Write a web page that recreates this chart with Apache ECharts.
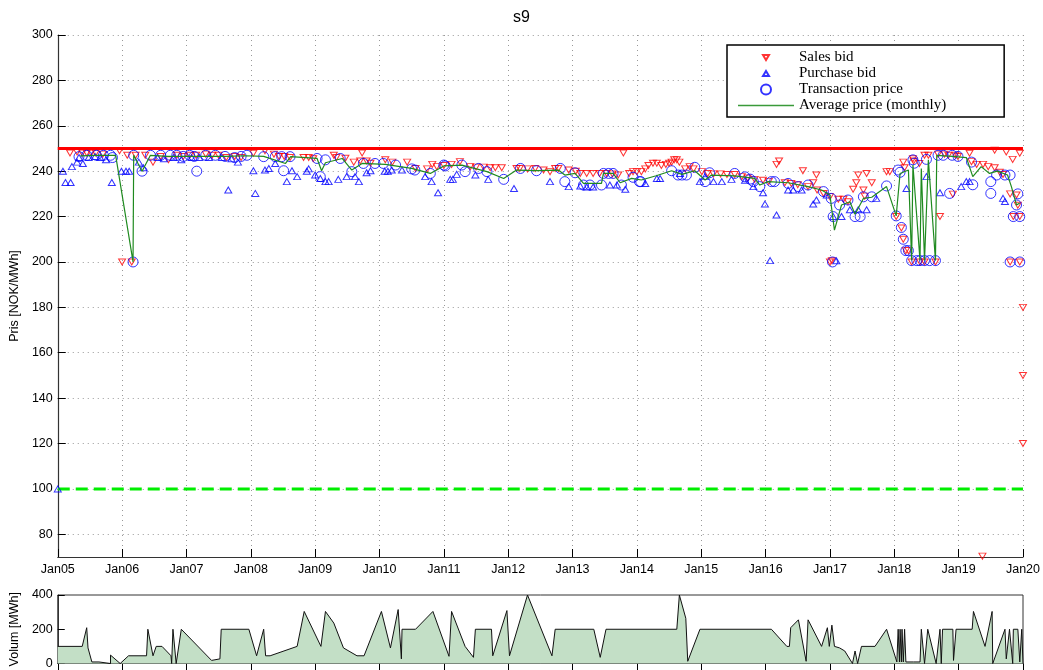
<!DOCTYPE html>
<html lang="en">
<head>
    <meta charset="UTF-8">
    <title>s9</title>
    <style>
        html, body { margin: 0; padding: 0; background: #fff; }
    </style>
</head>
<body>
    <div id="main" style="width: 1043px;height:670px;"></div>
    <script src="https://cdn.jsdelivr.net/npm/echarts@6/dist/echarts.min.js"></script>
    <script type="text/javascript">
        var myChart = echarts.init(document.getElementById('main'));

        // x values are decimal years (2005.5 = mid 2005)
        var yearTicks = [2005, 2006, 2007, 2008, 2009, 2010, 2011, 2012, 2013, 2014, 2015, 2016, 2017, 2018, 2019, 2020];
        var priceTicks = [80, 100, 120, 140, 160, 180, 200, 220, 240, 260, 280, 300];

        var priceCap = 250;   // upper price limit (red)
        var priceFloor = 100; // lower price limit (green dashed)

        var salesBid = [
            [2005.19,248],[2005.30,248.5],[2005.38,248],[2005.45,248],[2005.52,248],[2005.59,248],[2005.70,247.5],[2005.96,249],
            [2006.00,200],[2006.08,247],[2006.15,200],[2006.21,247],[2006.36,247],[2006.48,244],[2006.60,246.5],[2006.72,245],
            [2006.85,247],[2006.95,246.5],[2007.05,247],[2007.15,247],[2007.30,247.5],[2007.40,247],[2007.50,247],[2007.62,246],
            [2007.75,246.5],[2007.85,246],
            [2008.04,247.9],[2008.22,249],[2008.36,247.5],[2008.44,246.5],[2008.52,246.5],[2008.61,246],[2008.82,246],[2008.90,246],
            [2008.97,245.5],[2009.29,247],[2009.33,246],[2009.47,245.7],[2009.60,244],[2009.73,248],[2009.70,244.5],[2009.80,244.5],
            [2009.86,243.5],[2010.09,245],[2010.20,244],[2010.43,244],[2010.56,241.2],[2010.74,241],[2010.82,243],[2010.89,242],
            [2011.00,242.5],[2011.12,243],[2011.25,244.2],[2011.41,242],[2011.50,241.8],[2011.62,241.8],[2011.72,241.5],[2011.80,241.5],
            [2011.90,241.5],[2012.13,241.2],[2012.18,241.2],[2012.30,241],[2012.42,241.2],[2012.55,240.5],[2012.65,239.8],[2012.73,241.2],
            [2012.78,241.2],[2012.94,240.5],[2013.05,240],[2013.12,239],[2013.22,239],[2013.32,239],[2013.42,239],[2013.53,239],
            [2013.62,238.8],[2013.71,238.3],[2013.79,248],[2013.88,239],[2013.94,239.8],[2014.00,239.8],
            [2014.07,239.8],[2014.13,241],[2014.18,242.5],[2014.25,243.5],[2014.31,243.5],[2014.38,242.5],[2014.45,243],[2014.50,243.5],
            [2014.54,244],[2014.58,245],[2014.62,245],[2014.66,244],[2014.75,241],[2014.82,242],[2014.88,241],[2015.01,239.8],
            [2015.10,239],[2015.19,238.8],[2015.30,238.8],[2015.40,238.5],[2015.52,238.5],[2015.63,237.6],[2015.72,237],[2015.83,236.4],
            [2015.96,236],[2016.05,235.5],[2016.17,243],[2016.21,244.5],[2016.30,234.9],[2016.40,234.6],[2016.50,234],[2016.58,240.2],
            [2016.66,233.2],[2016.74,234.9],[2016.79,238.3],[2016.80,231.7],[2016.90,230.2],[2017.00,228.8],[2017.00,200],
            [2017.03,200.5],[2017.13,227.6],[2017.21,227.6],[2017.28,226.5],[2017.36,232],[2017.41,234.9],[2017.44,238.3],[2017.52,231.7],
            [2017.54,229],[2017.57,239],[2017.65,234.9],[2017.88,239.8],[2017.93,239.8],[2018.03,220],[2018.11,215],[2018.14,210],
            [2018.14,244],[2018.16,241.5],[2018.18,205],[2018.22,205],[2018.27,200],[2018.29,245.5],[2018.30,244.5],[2018.39,243.4],
            [2018.40,200],[2018.47,247],[2018.47,200],[2018.53,247],[2018.64,200],[2018.71,220],[2018.68,247.5],[2018.78,247.5],
            [2018.84,247],[2018.91,229.9],[2018.95,247],[2018.99,246.5],[2019.17,247.9],[2019.20,244.2],[2019.28,243],[2019.38,243],
            [2019.37,70.4],[2019.46,242],[2019.56,241.5],[2019.56,249.2],[2019.64,239.5],[2019.69,238.5],[2019.74,248.5],[2019.80,230],
            [2019.80,200],[2019.84,245.2],[2019.85,220],[2019.90,229.5],[2019.92,225],[2019.95,247.9],[2019.95,220],[2019.95,200],
            [2020.00,180],[2020.00,150],[2020.00,120]
        ];

        var purchaseBid = [
            [2005.00,100],[2005.08,240],[2005.12,235],[2005.20,235],[2005.22,242],[2005.30,244],[2005.33,246],[2005.39,243.4],
            [2005.48,246],[2005.58,246.5],[2005.66,246],[2005.75,245],[2005.84,235],[2005.99,240],[2006.06,240],[2006.11,240],
            [2006.26,244],[2006.33,241.5],[2006.55,246],[2006.65,245.5],[2006.80,246],[2006.92,245],[2007.08,246],[2007.20,246],
            [2007.35,246],[2007.55,246],[2007.65,231.7],[2007.70,245.5],[2007.80,244],
            [2008.04,240.2],[2008.07,230.2],[2008.22,240.5],[2008.28,241.2],[2008.38,243.4],[2008.56,235.4],[2008.64,240.2],[2008.72,237.6],
            [2008.87,240],[2008.90,241],[2009.00,238.3],[2009.08,236.8],[2009.16,235.4],[2009.21,235.4],[2009.36,236.4],[2009.49,237.6],
            [2009.62,237.6],[2009.68,235.4],[2009.80,239.3],[2009.86,240.2],[2010.08,240],[2010.13,240],[2010.19,240.5],[2010.35,240.5],
            [2010.71,237.6],[2010.81,235.4],[2010.91,230.5],
            [2011.10,236.4],[2011.14,236.4],[2011.20,238.6],[2011.49,238.3],[2011.69,236.4],[2012.09,232.4],[2012.65,235.4],[2012.94,233.2],
            [2013.12,233.5],[2013.22,233],[2013.32,233],[2013.58,233.9],[2013.69,233.9],[2013.82,232],
            [2014.13,234.6],[2014.31,236.8],[2014.36,236.8],[2014.67,239],[2014.98,235.4],[2015.06,237.6],[2015.19,235.4],[2015.32,235.4],
            [2015.47,236.4],[2015.68,236],[2015.81,233.2],[2015.96,230.5],[2015.99,225.5],[2016.07,200.6],[2016.17,220.7],[2016.35,231.7],
            [2016.43,231.7],[2016.56,231.7],[2016.74,225.5],[2016.79,227.3],[2016.95,229.5],[2017.05,220],
            [2017.10,200.5],[2017.18,220],[2017.31,223],[2017.44,223],[2017.57,223],[2017.72,228],[2018.19,232.4],[2018.50,237.6],
            [2018.71,230.5],[2019.04,233.2],[2019.12,235.4],[2019.17,235.4],[2019.69,228],[2019.72,226.6]
        ];

        var transactionPrice = [
            [2005.33,246.4],[2005.45,247],[2005.60,247],[2005.71,247],[2005.82,247],[2005.85,246],[2006.17,200],[2006.18,247],
            [2006.31,240],[2006.44,247],[2006.60,247],[2006.75,247],[2006.85,247],[2006.95,246.5],[2007.05,247],[2007.12,246.5],
            [2007.16,240],[2007.30,247],[2007.45,247],[2007.60,246.5],[2007.75,246],[2007.85,246.5],
            [2007.94,247],[2008.20,246.4],[2008.38,246.4],[2008.48,246.4],[2008.51,240.2],[2008.61,246.4],[2009.03,245.6],[2009.08,237.6],
            [2009.16,245],[2009.39,245.6],[2009.57,239.8],[2009.75,243.4],[2009.93,243.4],[2010.06,243.4],[2010.25,242.7],[2010.50,241],
            [2010.55,240.5],[2010.79,239],[2011.00,242.7],
            [2011.02,242.3],[2011.28,242.7],[2011.33,239.8],[2011.54,241.2],[2011.67,239.8],[2011.93,236.4],[2012.19,241.2],[2012.44,240.2],
            [2012.81,241.2],[2012.88,235.4],[2013.04,239.3],[2013.17,233.9],[2013.27,233.9],[2013.45,233.9],[2013.48,239],[2013.56,239],
            [2013.63,239],[2013.76,233.9],[2013.94,237.3],[2014.04,235.4],
            [2014.06,235.4],[2014.54,240.2],[2014.64,238.3],[2014.70,238.3],[2014.77,238.3],[2014.90,241.7],[2015.06,235.4],[2015.13,239.3],
            [2015.52,239],[2015.68,237.5],[2015.76,236.5],[2015.81,235.4],[2015.91,233.2],[2016.09,235.4],[2016.14,235.4],[2016.35,234.6],
            [2016.51,233.2],[2016.66,233.9],[2016.90,231],[2017.04,200],[2017.05,220],
            [2017.02,228],[2017.15,225.1],[2017.28,227.3],[2017.39,220],[2017.47,220],[2017.52,228.7],[2017.65,228.7],[2017.88,233.5],
            [2018.03,220.3],[2018.06,240.5],[2018.09,239.5],[2018.11,215.2],[2018.14,210],[2018.18,205],[2018.22,205],[2018.27,200.6],
            [2018.29,245],[2018.31,243.5],[2018.35,200.6],[2018.40,200.6],[2018.47,200.6],[2018.50,245.2],[2018.55,200.6],[2018.64,200.6],
            [2018.68,247],[2018.76,247],[2018.86,230.2],[2018.90,247],[2018.99,246.5],[2019.20,244],[2019.22,234],[2019.50,235.4],
            [2019.50,230.2],[2019.59,238.3],[2019.72,238.3],[2019.80,238.3],[2019.80,200],[2019.85,220],[2019.90,225.1],[2019.92,230],
            [2019.95,220],[2019.95,200]
        ];

        var avgMonthly = [
            [2005.35,246.7],[2005.60,247],[2005.90,247],[2006.17,200],[2006.18,247],[2006.31,240],[2006.44,247],[2006.70,246.5],
            [2007.00,246.5],[2007.30,246.5],[2007.60,246.5],[2007.92,246.8],[2008.20,246.5],[2008.54,243.4],[2008.62,246.4],[2009.03,245.6],
            [2009.10,240.2],[2009.16,243.7],[2009.42,245.6],[2009.57,240.5],[2009.73,243.4],[2010.09,243],[2010.50,241.2],[2010.79,239],
            [2011.00,242.3],[2011.28,242.7],[2011.67,239.8],[2011.93,236.8],[2012.13,240.5],[2012.44,240.2],[2012.78,240.5],[2012.88,238.3],
            [2013.04,239],[2013.17,234.6],[2013.45,234.6],[2013.48,239],[2013.63,239],[2013.74,234.9],[2013.92,236.8],[2014.07,236.1],
            [2014.30,238],[2014.54,240.2],[2014.70,238.6],[2014.90,240.2],[2015.06,236.1],[2015.16,238.3],[2015.52,237.9],[2015.83,236.8],
            [2015.91,233.9],[2016.04,235.4],[2016.35,234.9],[2016.66,233.2],[2016.87,231.7],[2017.00,229.5],[2017.07,214],[2017.18,225.1],
            [2017.31,226.5],[2017.39,221],[2017.52,228],[2017.65,228.5],[2017.88,233.2],[2018.03,220.3],[2018.09,239],[2018.22,240.5],
            [2018.27,200.6],[2018.29,242.7],[2018.40,200.6],[2018.42,241.2],[2018.47,200.6],[2018.53,245],[2018.64,200.6],[2018.66,247],
            [2018.90,246.5],[2019.12,246],[2019.22,237.6],[2019.35,242],[2019.48,239],[2019.60,240],[2019.76,238.3],[2019.82,233.2],
            [2019.90,225.1],[2019.95,226]
        ];

        var volume = [
            [2005.00,100],[2005.38,100],[2005.45,209],[2005.47,91],[2005.53,9],[2005.64,9],[2005.82,0],[2005.82,49],[2005.97,0],
            [2006.10,45],[2006.38,45],[2006.40,200],[2006.48,45],[2006.53,100],[2006.62,100],[2006.76,45],[2006.77,0],[2006.79,200],
            [2006.84,0],[2006.92,200],[2007.39,18],[2007.52,27],[2007.54,200],[2007.97,200],[2008.09,45],[2008.20,200],[2008.23,45],
            [2008.30,45],[2008.72,100],[2008.83,304],[2009.09,100],[2009.16,304],[2009.29,236],[2009.44,91],[2009.65,45],[2009.76,45],
            [2010.03,304],[2010.17,91],[2010.29,315],[2010.34,27],[2010.35,200],[2010.56,200],[2010.83,304],[2011.08,42],[2011.12,304],
            [2011.33,100],[2011.46,36],[2011.49,200],[2011.74,200],[2011.76,45],[2011.98,309],[2012.02,45],[2012.30,400],
            [2012.68,45],[2012.73,200],[2013.33,200],[2013.43,36],[2013.52,200],[2014.62,200],[2014.66,400],[2014.76,264],[2014.79,13],
            [2014.98,200],[2016.09,200],[2016.33,100],[2016.37,100],[2016.39,209],[2016.51,255],[2016.63,13],[2016.66,255],[2016.87,100],
            [2016.96,209],[2016.99,100],[2017.03,224],[2017.07,100],[2017.15,91],[2017.23,73],[2017.35,0],[2017.39,73],[2017.43,0],
            [2017.49,100],[2017.70,100],[2017.88,200],[2018.04,9],[2018.06,200],[2018.08,9],[2018.09,200],[2018.11,9],[2018.12,200],
            [2018.14,9],[2018.16,200],[2018.18,9],[2018.30,9],[2018.40,9],[2018.42,200],[2018.47,0],[2018.52,200],[2018.65,0],
            [2018.71,200],[2018.73,0],[2018.75,200],[2018.91,200],[2018.92,18],[2018.96,200],[2019.21,200],[2019.23,304],[2019.41,100],
            [2019.52,304],[2019.53,0],[2019.72,200],[2019.74,27],[2019.79,200],[2019.84,0],[2019.85,200],[2019.92,200],[2019.95,9],
            [2019.98,200],[2020.00,0]
        ];

        var capLine = [[yearTicks[0], priceCap], [yearTicks[yearTicks.length - 1], priceCap]];
        var floorLine = [[yearTicks[0], priceFloor], [yearTicks[yearTicks.length - 1], priceFloor]];

        var FONT = 'Liberation Sans';
        var DOWN_TRI = 'path://M0,0L10,0L5,9Z';
        var UP_TRI = 'path://M5,0L10,9L0,9Z';
        // legend icons: padded with empty moveTo corners so they stay small
        var LEG_DOWN = 'path://M0,0M10,10M2,2.5L8,2.5L5,7.5Z';
        var LEG_UP = 'path://M0,0M10,10M5,2.5L8,7.5L2,7.5Z';
        var LEG_LINE = 'path://M0,0L56,0L56,1.4L0,1.4Z';
        var gridDots = { show: true, lineStyle: { color: '#999', type: [1, 4], width: 1 } };

        var option = {
            animation: false,
            title: {
                text: 's9',
                left: 'center',
                top: 5,
                textStyle: { fontFamily: FONT, fontSize: 16, fontWeight: 'normal', color: '#000' }
            },
            legend: {
                data: [
                    { name: 'Sales bid', icon: LEG_DOWN },
                    { name: 'Purchase bid', icon: LEG_UP },
                    { name: 'Transaction price', icon: 'circle' },
                    { name: 'Average price (monthly)', icon: LEG_LINE }
                ],
                orient: 'vertical',
                left: 727,
                top: 45,
                padding: [5, 58, 4, 11],
                itemGap: 1,
                itemWidth: 56,
                itemHeight: 10,
                borderColor: '#000',
                borderWidth: 1.5,
                backgroundColor: '#fff',
                textStyle: { fontFamily: 'Liberation Serif', fontSize: 15, lineHeight: 15, color: '#000' }
            },
            grid: [
                { left: 57, right: 20, top: 35, height: 522 },
                { left: 57, right: 20, top: 595, height: 73, show: true, borderColor: '#333', borderWidth: 1 }
            ],
            xAxis: [{
                type: 'value',
                gridIndex: 0,
                min: yearTicks[0],
                max: yearTicks[yearTicks.length - 1],
                interval: 1,
                axisLine: { lineStyle: { color: '#333', width: 1.2 } },
                axisTick: { inside: true, length: 8, lineStyle: { color: '#000' } },
                axisLabel: {
                    margin: 6, color: '#000', fontFamily: FONT, fontSize: 12.5,
                    formatter: function (v) { return 'Jan' + String(v).slice(2); }
                },
                splitLine: gridDots
            }, {
                type: 'value',
                gridIndex: 1,
                position: 'top',
                min: yearTicks[0],
                max: yearTicks[yearTicks.length - 1],
                interval: 1,
                axisLine: { lineStyle: { color: '#333' } },
                axisTick: { inside: true, length: 7, lineStyle: { color: '#000' } },
                axisLabel: { show: false },
                splitLine: { show: false }
            }],
            yAxis: [{
                type: 'value',
                gridIndex: 0,
                min: 70,
                max: 300,
                name: 'Pris [NOK/MWh]',
                nameLocation: 'middle',
                nameGap: 30,
                nameTextStyle: { fontFamily: FONT, fontSize: 12.5, color: '#000' },
                axisLine: { show: true, lineStyle: { color: '#333', width: 1.2 } },
                axisTick: { show: true, inside: true, length: 8, customValues: priceTicks, lineStyle: { color: '#000' } },
                axisLabel: { customValues: priceTicks, color: '#000', fontFamily: FONT, fontSize: 12.5, margin: 5 },
                splitLine: gridDots
            }, {
                type: 'value',
                gridIndex: 1,
                min: 0,
                max: 400,
                interval: 200,
                name: 'Volum [MWh]',
                nameLocation: 'middle',
                nameGap: 30,
                nameTextStyle: { fontFamily: FONT, fontSize: 12.5, color: '#000' },
                axisLine: { show: true, lineStyle: { color: '#333' } },
                axisTick: { show: true, inside: true, length: 7, lineStyle: { color: '#000' } },
                axisLabel: { color: '#000', fontFamily: FONT, fontSize: 12.5, margin: 5 },
                splitLine: { show: false }
            }],
            series: [{
                name: 'cap',
                type: 'line',
                data: capLine,
                symbol: 'none',
                silent: true,
                lineStyle: { color: '#ff0000', width: 3 },
                z: 1
            }, {
                name: 'floor',
                type: 'line',
                data: floorLine,
                symbol: 'none',
                silent: true,
                lineStyle: { color: '#00ee00', width: 3, type: [12, 6] },
                z: 1
            }, {
                name: 'Sales bid',
                type: 'scatter',
                data: salesBid,
                symbol: DOWN_TRI,
                symbolSize: [7, 6],
                itemStyle: { color: 'rgba(255,255,255,0)', borderColor: '#ff0000', borderWidth: 1 },
                z: 3
            }, {
                name: 'Purchase bid',
                type: 'scatter',
                data: purchaseBid,
                symbol: UP_TRI,
                symbolSize: [7, 6],
                itemStyle: { color: 'rgba(255,255,255,0)', borderColor: '#0000ff', borderWidth: 1 },
                z: 3
            }, {
                name: 'Transaction price',
                type: 'scatter',
                data: transactionPrice,
                symbol: 'circle',
                symbolSize: 10,
                itemStyle: { color: 'rgba(255,255,255,0)', borderColor: '#0000ff', borderWidth: 1 },
                z: 4
            }, {
                name: 'Average price (monthly)',
                type: 'line',
                data: avgMonthly,
                symbol: 'none',
                lineStyle: { color: '#1f8a1f', width: 1.2 },
                itemStyle: { color: '#3a9a3a' },
                z: 5
            }, {
                name: 'Volume',
                type: 'line',
                xAxisIndex: 1,
                yAxisIndex: 1,
                data: volume,
                symbol: 'none',
                lineStyle: { color: '#111', width: 1 },
                areaStyle: { color: '#c3dfc6', opacity: 1 }
            }]
        };

        myChart.setOption(option);
    </script>
</body>
</html>
